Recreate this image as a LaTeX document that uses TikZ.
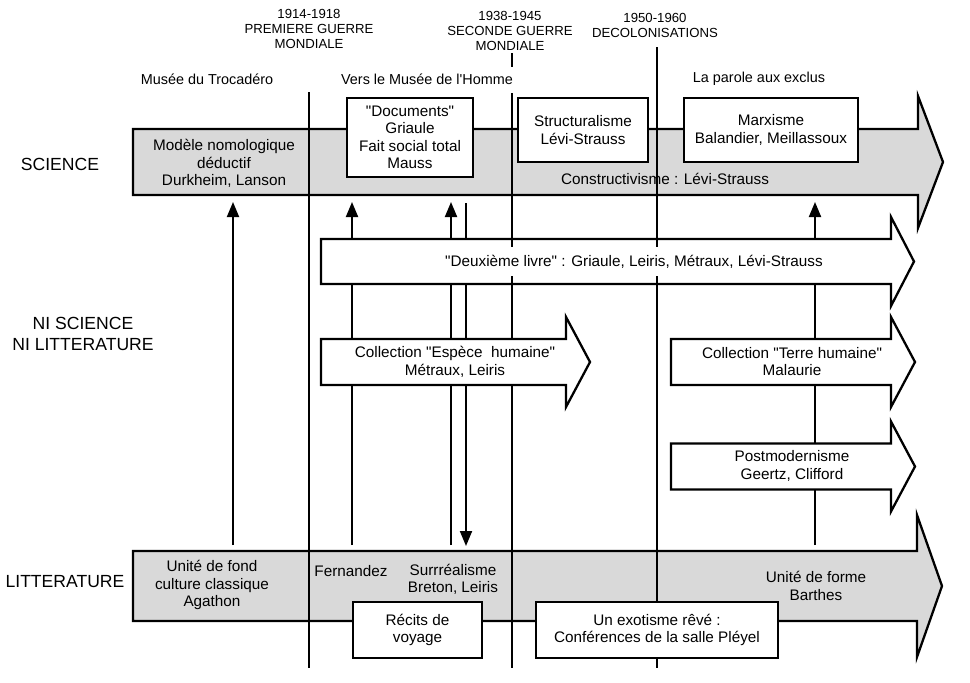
\documentclass[tikz,border=0pt]{standalone}
\usepackage{fontspec}
\newfontfamily\schemafont{Liberation Sans}
\usetikzlibrary{arrows.meta}

\begin{document}
\begin{tikzpicture}[x=0.2mm, y=-0.2mm, font=\schemafont\fontsize{8.7}{9.9}\selectfont,
		band/.style={draw, line width=1.3pt, fill=gray!30},
		flow/.style={draw, line width=1.3pt, fill=white},
		period/.style={line width=0.7pt},
		box/.style={draw, line width=0.9pt, fill=white, align=center, inner sep=0pt},
		txt/.style={align=center, inner sep=1pt},
		hdr/.style={align=center, inner sep=0pt, font=\schemafont\fontsize{7.5}{8.5}\selectfont},
		era/.style={inner sep=1pt, font=\schemafont\fontsize{8.2}{9.5}\selectfont},
		row/.style={align=center, inner sep=0pt, font=\schemafont\fontsize{10}{12.2}\selectfont},
		link/.style={line width=1.1pt, -{Triangle[length=3mm, width=2.4mm]}}]
		\useasboundingbox (0,0) rectangle (970,682);
		
		% science and litterature bands
		\draw[band] (133,129) -- (918,129) -- (918,96) -- (943,162) -- (918,228) -- (918,195) -- (133,195) -- cycle;
		\draw[band] (133,551) -- (917,551) -- (917,515) -- (942,586) -- (917,657) -- (917,621) -- (133,621) -- cycle;
		
		% arrows between the bands
		\foreach \x/\n in {233/a, 352/b, 451/c, 815/e}
		{
			\coordinate (lit\n) at (\x,551);
			\coordinate (sci\n) at (\x,195);
			\draw[link, shorten <=1.2mm, shorten >=1.4mm] (lit\n) -- (sci\n);
		}
		\coordinate (scid) at (466,195);
		\coordinate (litd) at (466,551);
		\draw[link, shorten <=1.6mm, shorten >=1mm] (scid) -- (litd);
		
		\draw[flow] (321,239) -- (891,239) -- (891,217) -- (914,261.5) -- (891,306) -- (891,284) -- (321,284) -- cycle;
		
		% periods
		\draw[period] (309,92) -- (309,668);
		\draw[period] (512,53) -- (512,67);
		\draw[period] (512,93) -- (512,668);
		\draw[period] (657,47) -- (657,668);
		
		\node[txt, fill=white, inner xsep=2pt, inner ysep=4.5pt] (livre) at (634,261.5) {"Deuxième livre" : Griaule, Leiris, Métraux, Lévi-Strauss};
		
		\foreach \l/\r/\c in {321/566/362, 671/891/362, 671/891/466.5}
		{
			\draw[flow] (\l,\c-23) -- (\r,\c-23) -- (\r,\c-45) -- (\r+24,\c) -- (\r,\c+45) -- (\r,\c+23) -- (\l,\c+23) -- cycle;
		}
		\node[txt] (espece) at (455,362) {Collection "Espèce\ \ humaine"\\Métraux, Leiris};
		\node[txt] (terre) at (792,361.5) {Collection "Terre humaine"\\Malaurie};
		\node[txt] (postmod) at (792,466) {Postmodernisme\\Geertz, Clifford};
		
		% boxes
		\node[box, minimum width=25.2mm, minimum height=15.8mm] (documents) at (410,137.5) {"Documents"\\Griaule\\Fait social total\\Mauss};
		\node[box, minimum width=26mm, minimum height=12.8mm] (structur) at (583,130) {Structuralisme\\Lévi-Strauss};
		\node[box, minimum width=34.8mm, minimum height=12.8mm] (marxisme) at (771,130) {Marxisme\\Balandier, Meillassoux};
		\node[box, minimum width=25.8mm, minimum height=11.2mm] (recits) at (417.5,630) {Récits de\\voyage};
		\node[box, minimum width=48.4mm, minimum height=11.2mm] (exotisme) at (657,630) {Un exotisme rêvé :\\Conférences de la salle Pléyel};
		
		\node[txt] (modele) at (224,163.5) {Modèle nomologique\\déductif\\Durkheim, Lanson};
		\node[txt] (construct) at (665,179) {Constructivisme : Lévi-Strauss};
		\node[txt] (fond) at (212,585) {Unité de fond\\culture classique\\Agathon};
		\node[txt] (fernandez) at (351,571) {Fernandez};
		\node[txt] (surreal) at (453,579.5) {Surrréalisme\\Breton, Leiris};
		\node[txt] (forme) at (816,586) {Unité de forme\\Barthes};
		
		% headers
		\node[hdr] (guerre1) at (309,29) {1914-1918\\PREMIERE GUERRE\\MONDIALE};
		\node[hdr] (guerre2) at (510,31) {1938-1945\\SECONDE GUERRE\\MONDIALE};
		\node[hdr] (decolon) at (655,25.5) {1950-1960\\DECOLONISATIONS};
		
		\node[era] (trocadero) at (207,79) {Musée du Trocadéro};
		\node[era] (homme) at (427,79) {Vers le Musée de l'Homme};
		\node[era] (parole) at (759,79) {La parole aux exclus};
		
		\node[row] (science) at (60,164) {SCIENCE};
		\node[row] (nisci) at (83,334) {NI SCIENCE\\NI LITTERATURE};
		\node[row] (litterature) at (65,582) {LITTERATURE};
	\end{tikzpicture}
\end{document}
